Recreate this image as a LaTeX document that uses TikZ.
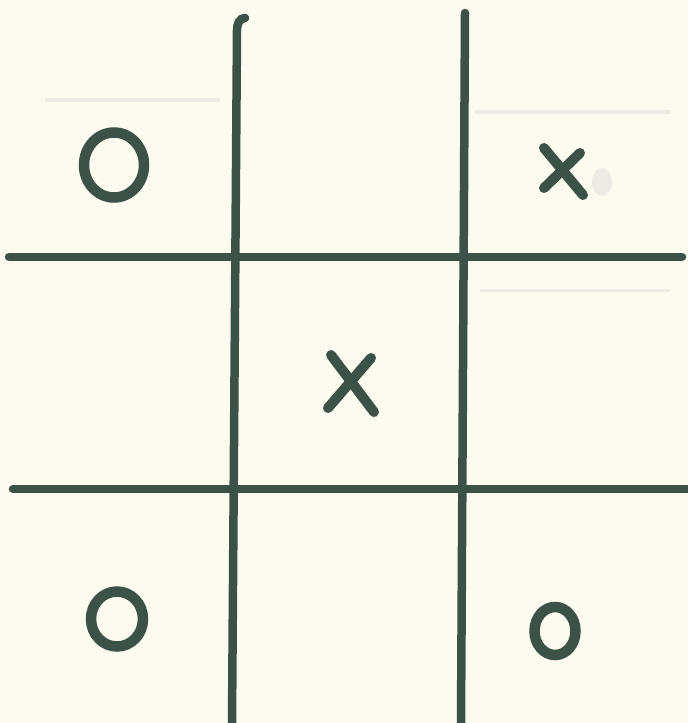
\documentclass[tikz,border=0pt]{standalone}
\definecolor{paper}{RGB}{253,251,240}
\definecolor{ink}{RGB}{60,82,71}
\definecolor{ghost}{RGB}{236,236,228}
\tikzset{
  gridline/.style={ink, line width=8.5pt, line cap=round},
  ostroke/.style={ink, line width=10.5pt},
  xstroke/.style={ink, line width=10pt, line cap=round},
}
\begin{document}
\begin{tikzpicture}[x=1pt,y=-1pt]
\fill[paper] (0,0) rectangle (688,723);
\useasboundingbox (0,0) rectangle (688,723);
% faint ghost marks of the scan
\draw[ghost, line width=4pt] (45,100) -- (220,100);
\draw[ghost, line width=4pt] (475,112) -- (670,112);
\draw[ghost, line width=3pt] (480,290) -- (670,290);
\fill[ghost] (602,182) ellipse (10 and 14);
% grid lines
\coordinate (v1top) at (237,30);
\coordinate (v1bot) at (232,723);
\coordinate (v2top) at (465,13);
\coordinate (v2bot) at (461,723);
\coordinate (h1l) at (9,257);
\coordinate (h1r) at (682,257);
\coordinate (h2l) at (13,489);
\coordinate (h2r) at (692,489);
\draw[gridline] (245,18) to[out=180,in=90] (v1top) -- (v1bot);
\draw[gridline] (v2top) -- (v2bot);
\draw[gridline] (h1l) -- (h1r);
\draw[gridline] (h2l) -- (h2r);
% O marks
\draw[ostroke] (114,165) ellipse (30 and 32.5);
\draw[ostroke] (117,619) ellipse (26 and 27.5);
\draw[ostroke] (555,631) ellipse (20.5 and 24);
% X marks
\draw[xstroke] (544,148) -- (583,195);
\draw[xstroke] (580,153) -- (544,188);
\draw[xstroke] (331,355) -- (374,412);
\draw[xstroke] (371,358) -- (328,408);
\end{tikzpicture}
\end{document}
